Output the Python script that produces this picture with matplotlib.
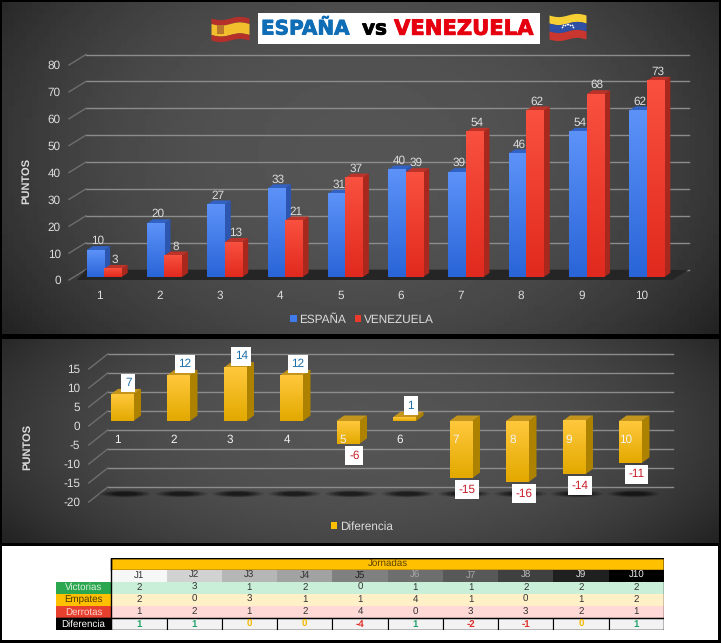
# Comparativa ESPAÑA vs VENEZUELA : puntos, diferencia y tabla por jornada
import numpy as np
import matplotlib
matplotlib.use("Agg")
import matplotlib.pyplot as plt
import matplotlib.patheffects as pe
from matplotlib.patches import Ellipse, Polygon, Rectangle

plt.rcParams["font.family"] = ["Liberation Sans", "DejaVu Sans"]
plt.rcParams["text.hinting"] = "no_hinting"
plt.rcParams["axes.unicode_minus"] = False

# DATOS
JORNADAS = [1, 2, 3, 4, 5, 6, 7, 8, 9, 10]
ESPANA = [10, 20, 27, 33, 31, 40, 39, 46, 54, 62]
VENEZUELA = [3, 8, 13, 21, 37, 39, 54, 62, 68, 73]
DIFERENCIA = [7, 12, 14, 12, -6, 1, -15, -16, -14, -11]

TICKS_PUNTOS = [0, 10, 20, 30, 40, 50, 60, 70, 80]
TICKS_DIF = [-20, -15, -10, -5, 0, 5, 10, 15]

COLUMNAS = ["J1", "J2", "J3", "J4", "J5", "J6", "J7", "J8", "J9", "J10"]
VICTORIAS = [2, 3, 1, 2, 0, 1, 1, 2, 2, 2]
EMPATES = [2, 0, 3, 1, 1, 4, 1, 0, 1, 2]
DERROTAS = [1, 2, 1, 2, 4, 0, 3, 3, 2, 1]
DIF_TABLA = [1, 1, 0, 0, -4, 1, -2, -1, 0, 1]

W, H = 721, 643
AZUL = ("#5C92F8", "#2A65D8", "#2C56B0", "#3263C4")
ROJO = ("#F9503F", "#E12A1F", "#A9281D", "#BB3329")
ORO = ("#FFC83C", "#E3A900", "#AD8200", "#C4951C")
TEXTO = "#DCDCDC"

fig = plt.figure(figsize=(W / 100, H / 100), dpi=100, facecolor="black")


def ejes_px(left, top, right, bottom, **kw):
    return fig.add_axes([left / W, 1 - bottom / H, (right - left) / W, (bottom - top) / H], **kw)


def hex_rgb(c):
    return np.array(matplotlib.colors.to_rgb(c))


def barra3d(ax, x, ancho, base, valor, colores, dx, dy, z):
    arriba, abajo = max(base, base + valor), min(base, base + valor)
    x0, x1 = x - ancho / 2, x + ancho / 2
    ax.add_patch(Polygon([(x1, abajo), (x1 + dx, abajo + dy), (x1 + dx, arriba + dy), (x1, arriba)],
                         fc=colores[2], ec="none", zorder=z, clip_on=False))
    ax.add_patch(Polygon([(x0, arriba), (x0 + dx, arriba + dy), (x1 + dx, arriba + dy), (x1, arriba)],
                         fc=colores[3], ec="none", zorder=z, clip_on=False))
    ax.bar(x, arriba - abajo, ancho, bottom=abajo, color=colores[1], zorder=z + 0.1, clip_on=False)
    grad = np.linspace(0, 1, 32)[:, None, None]
    img = grad * hex_rgb(colores[0]) + (1 - grad) * hex_rgb(colores[1])
    ax.imshow(img, extent=(x0, x1, abajo, arriba), origin="lower", aspect="auto",
              zorder=z + 0.2, clip_on=False, interpolation="bilinear")


def rejilla(ax, ticks, xmin, xmax, dx, dy):
    for v in ticks:
        ax.plot([xmin + dx, xmax + dx], [v + dy, v + dy], color="#8C8C8C", lw=1, zorder=1, clip_on=False)
        ax.plot([xmin, xmin + dx], [v, v + dy], color="#6E6E6E", lw=1, zorder=1, clip_on=False)


def estilo(ax):
    ax.patch.set_alpha(0)
    for s in ax.spines.values():
        s.set_visible(False)
    ax.tick_params(length=0, labelcolor=TEXTO, labelsize=8.5)


# FONDOS
fondo = fig.add_axes([0, 0, 1, 1], zorder=0)
fondo.set_xlim(0, W)
fondo.set_ylim(H, 0)
fondo.axis("off")


def panel(top, bottom):
    yy, xx = np.mgrid[0:1:80j, 0:1:120j]
    r = np.sqrt(((xx - 0.5) / 0.62) ** 2 + ((yy - 0.45) / 0.95) ** 2)
    g = np.clip(0.33 - 0.2 * r ** 2.4, 0.11, 1)
    fondo.imshow(g, extent=(2, 719, bottom, top), cmap="gray", vmin=0, vmax=1, aspect="auto", zorder=1)


panel(2, 334)
panel(339, 543)
fondo.add_patch(Rectangle((2, 546), 716, 94, fc="white", ec="none", zorder=1))
fondo.set_xlim(0, W)
fondo.set_ylim(H, 0)

# TITULO Y BANDERAS
fondo.add_patch(Rectangle((258, 13), 282, 31, fc="white", ec="none", zorder=2))
for x_txt, txt, col, fs in [(261, "ESPAÑA", "#0F6DB5", 14.4), (362, "vs", "black", 14.4),
                            (394, "VENEZUELA", "#E6000F", 15.2)]:
    fondo.text(x_txt, 29, txt, color=col, fontsize=fs, fontweight="bold", family="DejaVu Sans",
               va="center", ha="left", zorder=3,
               path_effects=[pe.withStroke(linewidth=0.6, foreground=col)])


def bandera(x0, x1, y0, y1, franjas):
    xs = np.linspace(x0, x1, 30)
    onda = 1.6 * np.sin((xs - x0) / (x1 - x0) * 2 * np.pi)
    acum = 0
    for frac, col in franjas:
        fondo.fill_between(xs, y0 + acum * (y1 - y0) + onda, y0 + (acum + frac) * (y1 - y0) + onda,
                           color=col, lw=0, zorder=3)
        acum += frac


bandera(211, 249, 18, 40, [(0.25, "#B5302B"), (0.5, "#F2BE2E"), (0.25, "#B5302B")])
fondo.add_patch(Rectangle((217, 25), 7, 9, fc="#B8772A", ec="none", zorder=4))
bandera(549, 586, 15, 39, [(1 / 3, "#F5CF33"), (1 / 3, "#2F4FA5"), (1 / 3, "#C9352F")])
ang = np.linspace(np.pi * 1.15, np.pi * 1.85, 8)
fondo.scatter(567.5 + 6 * np.cos(ang), 29 + 5 * np.sin(ang), s=1.5, color="white", lw=0, zorder=4)

# GRAFICO 1 : PUNTOS
ax1 = ejes_px(69, 65, 672, 280, zorder=2)
estilo(ax1)
ax1.set_xlim(0.5, 10.5)
ax1.set_ylim(0, 80)
px_x, px_y = 1 / 60.3, 80 / 215
fondo_dx, fondo_dy = 17 * px_x, 10.5 * px_y
rejilla(ax1, TICKS_PUNTOS, 0.5, 10.5, fondo_dx, fondo_dy)
ax1.add_patch(Polygon([(0.5 + 8 * px_x, 0), (0.5 + fondo_dx, fondo_dy), (10.5 + fondo_dx, fondo_dy), (10.5, 0)],
                      fc="#252525", ec="none", zorder=1.5, clip_on=False))
ancho1 = 17.5 * px_x
for i, j in enumerate(JORNADAS):
    for k, (vals, cols) in enumerate([(ESPANA, AZUL), (VENEZUELA, ROJO)]):
        xb = j + (5 * px_x) + (k - 0.5) * ancho1
        barra3d(ax1, xb, ancho1, 3 * px_y, vals[i], cols, 6 * px_x, 4 * px_y, 3 + k + i * 3)
        ax1.annotate(str(vals[i]), (xb, vals[i] + 3 * px_y), xytext=(1.5, 6.5), textcoords="offset points",
                     ha="center", va="center", color=TEXTO, fontsize=8.5, zorder=60, annotation_clip=False)
# proxys para la leyenda
ax1.bar([0], [0], color="#3F7BEA", label="ESPAÑA")
ax1.bar([0], [0], color="#EA3A2C", label="VENEZUELA")
ax1.set_xlim(0.5, 10.5)
ax1.set_ylim(0, 80)
ax1.set_xticks(JORNADAS)
ax1.set_xticklabels([str(j) for j in JORNADAS])
ax1.set_yticks(TICKS_PUNTOS)
ax1.tick_params(axis="x", pad=7.5)
ax1.tick_params(axis="y", pad=5.8)
ax1.set_ylabel("PUNTOS", color=TEXTO, fontsize=8, fontweight="bold")
ax1.yaxis.set_label_coords((31 - 69) / 603, (280 - 181) / 215)
ax1.legend(loc="center", bbox_to_anchor=((362 - 69) / 603, (280 - 320) / 215), ncol=2, frameon=False,
           labelcolor=TEXTO, fontsize=8.5, handlelength=0.55, handleheight=0.55, handletextpad=0.25,
           columnspacing=0.7, borderpad=0)

# GRAFICO 2 : DIFERENCIA
ax2 = ejes_px(88.75, 369, 653.75, 502, zorder=2)
estilo(ax2)
ax2.set_xlim(0.5, 10.5)
ax2.set_ylim(-20, 15)
px_x2, px_y2 = 1 / 56.5, 35 / 133
rejilla(ax2, TICKS_DIF, 0.5, 10.5, 19 * px_x2, 15 * px_y2)
ancho2 = 23 * px_x2
base2 = 5 * px_y2
for j in JORNADAS:
    sombra_x = j + 8 * px_x2
    for escala, alfa in [(1.0, 0.12), (0.85, 0.18), (0.7, 0.25), (0.5, 0.3)]:
        ax2.add_patch(Ellipse((sombra_x, -17.85), 52 * px_x2 * escala, 7 * px_y2 * escala, fc="black",
                              ec="none", alpha=alfa, zorder=1.5, clip_on=False))
for i, j in enumerate(JORNADAS):
    v = DIFERENCIA[i]
    xb = j + 5 * px_x2
    barra3d(ax2, xb, ancho2, base2, v, ORO, 7.5 * px_x2, 5.5 * px_y2, 3 + i * 2)
    sentido = 1 if v > 0 else -1
    col = "#1F6FA8" if v > 0 else "#C8202C"
    ax2.annotate(str(v), (xb, v + base2), xytext=(4.5, sentido * 8.3), textcoords="offset points", ha="center",
                 va="center", color=col, fontsize=8.5, zorder=60, annotation_clip=False,
                 bbox=dict(fc="white", ec="none", pad=2.6))
ax2.bar([0], [0], color="#FFC000", label="Diferencia")
ax2.set_xlim(0.5, 10.5)
ax2.set_ylim(-20, 15)
ax2.spines["bottom"].set_position(("data", 0))
ax2.set_xticks(JORNADAS)
ax2.set_xticklabels([str(j) for j in JORNADAS])
ax2.set_yticks(TICKS_DIF)
ax2.tick_params(axis="x", pad=6, labelcolor="#F2F2F2")
ax2.tick_params(axis="y", pad=6.3)
ax2.xaxis.set_zorder(50)
ax2.set_ylabel("PUNTOS", color=TEXTO, fontsize=8, fontweight="bold")
ax2.yaxis.set_label_coords((32 - 88.75) / 565, (502 - 447) / 133)
ax2.legend(loc="center", bbox_to_anchor=((362 - 88.75) / 565, (502 - 527) / 133), frameon=False,
           labelcolor=TEXTO, fontsize=8.5, handlelength=0.55, handleheight=0.55, handletextpad=0.25, borderpad=0)

# TABLA
tab = ejes_px(56, 557.5, 664, 630, zorder=2)
tab.set_xlim(-1, 10)
tab.set_ylim(6, 0)
tab.axis("off")
FS = 7
tab.add_patch(Rectangle((0, 0), 10, 1, fc="#FFC000", ec="black", lw=1))
tab.text(5, 0.5, "Jornadas", ha="center", va="center", fontsize=FS, color="#5A4200")
GRISES = ["#F7F7F7", "#D2D2D2", "#B6B6B6", "#A2A2A2", "#808080", "#6E6E6E", "#585858", "#404040", "#202020", "#000000"]
TXT_J = ["#333333", "#333333", "#333333", "#333333", "#222222", "#A8A8A8", "#A8A8A8", "#BBBBBB", "#DDDDDD", "#EEEEEE"]
for c, nombre in enumerate(COLUMNAS):
    tab.add_patch(Rectangle((c, 1), 1, 1, fc=GRISES[c], ec="none"))
    tab.text(c + 0.5, 1.5, nombre, ha="center", va="center", fontsize=FS, color=TXT_J[c])

FILAS = [("Victorias", VICTORIAS, "#2BA84F", "#D8F0DC", "#C9EFD8"),
         ("Empates", EMPATES, "#FFC000", "#4A3A00", "#FFF0C8"),
         ("Derrotas", DERROTAS, "#E8402F", "#FBD5D0", "#FFD9D6")]
for f, (nombre, vals, fc_lab, col_lab, fc_cel) in enumerate(FILAS):
    y = 2 + f
    tab.add_patch(Rectangle((-1, y), 1, 1, fc=fc_lab, ec="none"))
    tab.text(-0.5, y + 0.5, nombre, ha="center", va="center", fontsize=FS, color=col_lab)
    tab.add_patch(Rectangle((0, y), 10, 1, fc=fc_cel, ec="none"))
    for c, v in enumerate(vals):
        tab.text(c + 0.5, y + 0.5, str(v), ha="center", va="center", fontsize=FS, color="#333333")

tab.add_patch(Rectangle((-1, 5), 1, 1, fc="black", ec="black", lw=1))
tab.text(-0.5, 5.5, "Diferencia", ha="center", va="center", fontsize=FS, color="white")
for c, v in enumerate(DIF_TABLA):
    tab.add_patch(Rectangle((c, 5), 1, 1, fc="#F2F2F2", ec="black", lw=0.8))
    col = "#1FA36A" if v > 0 else ("#F2B800" if v == 0 else "#E0302A")
    tab.text(c + 0.5, 5.5, str(v), ha="center", va="center", fontsize=FS, color=col, fontweight="bold")
tab.add_patch(Rectangle((0, 0), 10, 6, fc="none", ec="black", lw=1))
tab.plot([-1, 10], [5, 5], color="black", lw=1)

fig.savefig("out.png", dpi=100, facecolor="black")
